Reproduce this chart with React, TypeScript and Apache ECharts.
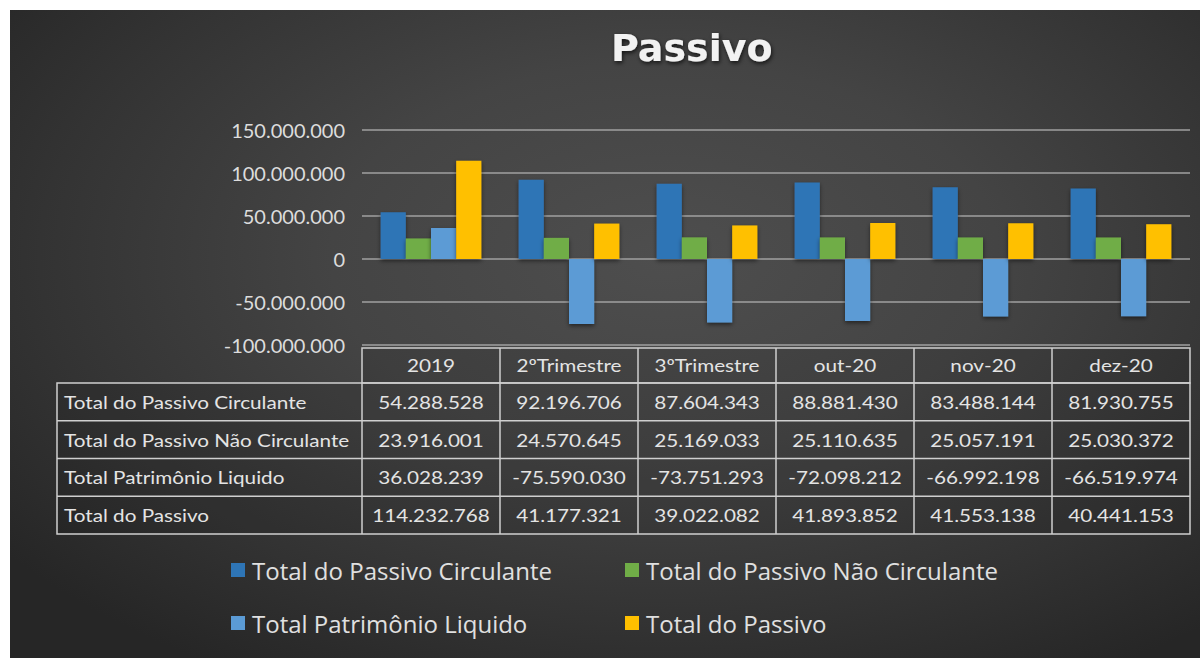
import React, { useEffect, useRef } from "react";
import * as echarts from "echarts";

const categories = ["2019", "2ºTrimestre", "3ºTrimestre", "out-20", "nov-20", "dez-20"];
const seriesNames = [
  "Total do Passivo Circulante",
  "Total do Passivo Não Circulante",
  "Total Patrimônio Liquido",
  "Total do Passivo",
];
const circulante = [54288528, 92196706, 87604343, 88881430, 83488144, 81930755];
const naoCirculante = [23916001, 24570645, 25169033, 25110635, 25057191, 25030372];
const patrimonio = [36028239, -75590030, -73751293, -72098212, -66992198, -66519974];
const totalPassivo = [114232768, 41177321, 39022082, 41893852, 41553138, 40441153];
const colors = ["#2E75B6", "#70AD47", "#5B9BD5", "#FFC000"];
const yMin = -100000000;
const yMax = 150000000;
const yInterval = 50000000;

const fmt = (n: number) => {
  const s = Math.abs(n).toString().replace(/\B(?=(\d{3})+(?!\d))/g, ".");
  return (n < 0 ? "-" : "") + s;
};

export default function App() {
  const ref = useRef<HTMLDivElement>(null);
  useEffect(() => {
    document.body.style.margin = "0";
    if (!ref.current) return;
    const chart = echarts.init(ref.current, null, { renderer: "svg" });
    const allData = [circulante, naoCirculante, patrimonio, totalPassivo];

    const gridLeft = 352;
    const gridWidth = 828;
    const colW = gridWidth / categories.length;
    const hdrTop = 338;
    const rowTop = 373;
    const rowH = 37.75;
    const labelLeft = 47;
    const tableRight = gridLeft + gridWidth;
    const tableBottom = rowTop + rowH * seriesNames.length;
    const lineStyle = { stroke: "#cfcfcf", lineWidth: 1.5 };
    const font = "Lato";
    const textColor = "#e4e4e4";
    const sx = 1.15;

    const graphics: any[] = [];
    graphics.push({
      type: "rect",
      shape: { x: gridLeft, y: hdrTop, width: gridWidth, height: rowTop - hdrTop },
      style: { fill: "rgba(0,0,0,0.08)", ...lineStyle },
    });
    graphics.push({
      type: "rect",
      shape: { x: labelLeft, y: rowTop, width: tableRight - labelLeft, height: tableBottom - rowTop },
      style: { fill: "rgba(0,0,0,0.08)", ...lineStyle },
    });
    for (let i = 1; i < seriesNames.length; i++) {
      graphics.push({
        type: "line",
        shape: { x1: labelLeft, y1: rowTop + i * rowH, x2: tableRight, y2: rowTop + i * rowH },
        style: lineStyle,
      });
    }
    for (let j = 0; j < categories.length; j++) {
      graphics.push({
        type: "line",
        shape: { x1: gridLeft + j * colW, y1: j === 0 ? rowTop : hdrTop, x2: gridLeft + j * colW, y2: tableBottom },
        style: lineStyle,
      });
      graphics.push({
        type: "text",
        x: gridLeft + (j + 0.5) * colW,
        y: (hdrTop + rowTop) / 2,
        scaleX: sx,
        style: {
          text: categories[j],
          fill: textColor,
          font: `18px ${font}`,
          align: "center",
          verticalAlign: "middle",
        },
      });
    }
    seriesNames.forEach((name, i) => {
      const cy = rowTop + (i + 0.5) * rowH;
      graphics.push({
        type: "text",
        x: labelLeft + 7,
        y: cy,
        scaleX: sx,
        style: { text: name, fill: textColor, font: `18px ${font}`, align: "left", verticalAlign: "middle" },
      });
      allData[i].forEach((v, j) => {
        graphics.push({
          type: "text",
          x: gridLeft + (j + 0.5) * colW,
          y: cy,
          scaleX: sx,
          style: { text: fmt(v), fill: textColor, font: `18px ${font}`, align: "center", verticalAlign: "middle" },
        });
      });
    });

    const legendPos = [
      { left: 221, top: 548 },
      { left: 615, top: 548 },
      { left: 221, top: 601 },
      { left: 615, top: 601 },
    ];

    chart.setOption({
      animation: false,
      backgroundColor: "transparent",
      title: {
        text: "Passivo",
        left: 596,
        top: 14,
        textStyle: {
          fontFamily: "DejaVu Sans",
          fontWeight: "bold",
          fontSize: 38,
          color: "#f2f2f2",
          textShadowColor: "rgba(0,0,0,0.7)",
          textShadowBlur: 4,
          textShadowOffsetX: 1,
          textShadowOffsetY: 2,
        },
      },
      legend: seriesNames.map((n, i) => ({
        data: [n],
        left: legendPos[i].left,
        top: legendPos[i].top,
        padding: 0,
        icon: "rect",
        itemWidth: 14,
        itemHeight: 14,
        textStyle: { color: "#e0e0e0", fontSize: 24, fontFamily: "Open Sans", padding: [0, 0, 0, 2] },
        selectedMode: false,
      })),
      grid: { left: gridLeft, width: gridWidth, top: 120, height: 215, containLabel: false },
      xAxis: {
        type: "category",
        data: categories,
        axisLine: { show: false },
        axisTick: { show: false },
        axisLabel: { show: false },
      },
      yAxis: {
        type: "value",
        min: yMin,
        max: yMax,
        interval: yInterval,
        axisLine: { show: false },
        axisTick: { show: false },
        axisLabel: {
          formatter: (v: number) => fmt(v),
          color: "#dcdcdc",
          fontSize: 20,
          fontFamily: font,
          margin: 17,
        },
        splitLine: { lineStyle: { color: "#a0a0a0", width: 1.5 } },
      },
      series: seriesNames.map((n, i) => ({
        name: n,
        type: "bar",
        data: allData[i],
        barGap: "0%",
        barCategoryGap: "27%",
        itemStyle: {
          color: colors[i],
          shadowColor: "rgba(0,0,0,0.5)",
          shadowBlur: 4,
          shadowOffsetY: 2,
        },
      })),
      graphic: graphics,
    });
    return () => chart.dispose();
  }, []);

  return (
    <div style={{ position: "relative", width: 1200, height: 658, background: "#ffffff", overflow: "hidden" }}>
      <div
        ref={ref}
        style={{
          position: "absolute",
          left: 10,
          top: 10,
          width: 1190,
          height: 648,
          background:
            "radial-gradient(ellipse 70% 75% at 55% 38%, #4e4e4e 0%, #444444 40%, #333333 75%, #262626 100%)",
        }}
      />
    </div>
  );
}
